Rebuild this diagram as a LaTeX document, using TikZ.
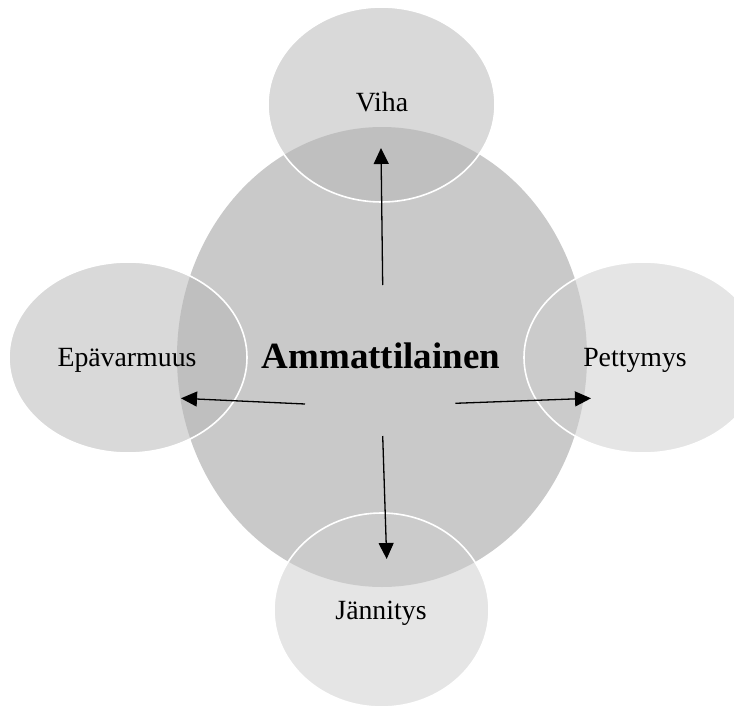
\documentclass[tikz,border=0pt]{standalone}
\usepackage{fontspec}
\setmainfont{Liberation Serif}
\usetikzlibrary{shapes.geometric,arrows.meta}
\definecolor{bigfill}{RGB}{201,201,201}
\definecolor{darksat}{RGB}{182,182,182}
\definecolor{lightsat}{RGB}{205,205,205}
\tikzset{
  bigell/.style={ellipse, fill=bigfill, draw=none, inner sep=0pt},
  satell/.style={ellipse, fill opacity=0.52, draw=white, line width=1.6pt, inner sep=0pt},
  lbl/.style={anchor=base, inner sep=0pt, font=\fontsize{27.8}{30}\selectfont},
  mainlbl/.style={anchor=base, inner sep=0pt, font=\fontsize{37}{40}\selectfont\bfseries},
  arr/.style={draw=black, line width=1.3pt, -{Triangle[length=16pt,width=15pt]}}
}
\begin{document}
\begin{tikzpicture}[x=1pt,y=-1pt]
\useasboundingbox (0,0) rectangle (734,709);
\node[bigell, minimum width=410pt, minimum height=460pt] (center) at (382,357) {};
\node[satell, fill=darksat, minimum width=227pt, minimum height=195pt] (top) at (381.5,104.5) {};
\node[satell, fill=darksat, minimum width=238pt, minimum height=191pt] (left) at (128,357.5) {};
\node[satell, fill=lightsat, minimum width=238pt, minimum height=191pt] (right) at (643,357.5) {};
\node[satell, fill=lightsat, minimum width=215pt, minimum height=194pt] (bottom) at (381.5,610) {};
\coordinate (su) at (382.7,285);
\coordinate (tu) at (381,148);
\coordinate (sl) at (305,404);
\coordinate (tl) at (181,398.3);
\coordinate (sr) at (455.3,403.3);
\coordinate (tr) at (591,398.3);
\coordinate (sd) at (382.7,436);
\coordinate (td) at (386.7,559);
\draw[arr] (su) -- (tu);
\draw[arr] (sl) -- (tl);
\draw[arr] (sr) -- (tr);
\draw[arr] (sd) -- (td);
\node[mainlbl] (tmain) at (381,368) {Ammattilainen};
\node[lbl] (ttop) at (382,111) {Viha};
\node[lbl] (tleft) at (127,366) {Epävarmuus};
\node[lbl] (tright) at (635,366) {Pettymys};
\node[lbl] (tbottom) at (381,619) {Jännitys};
\end{tikzpicture}
\end{document}
